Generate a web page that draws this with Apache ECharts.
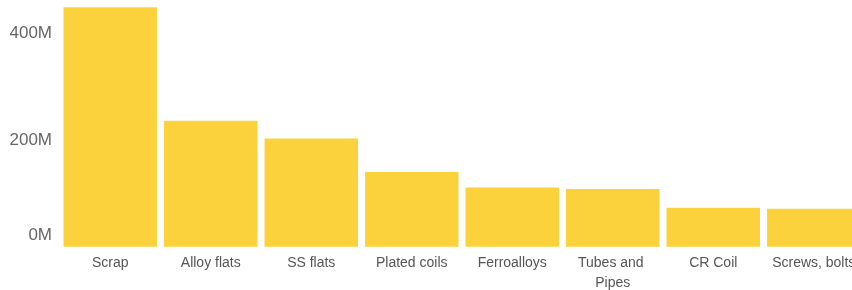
<!DOCTYPE html>
<html>
<head>
<meta charset="utf-8">
<script src="https://cdn.jsdelivr.net/npm/echarts@6/dist/echarts.min.js"></script>
<style>
  html, body { margin: 0; padding: 0; background: #fff; }
  #chart { width: 852px; height: 290px; }
</style>
</head>
<body>
<div id="chart"></div>
<script>
// data (values in millions)
var categories = ['Scrap', 'Alloy flats', 'SS flats', 'Plated coils', 'Ferroalloys', 'Tubes and Pipes', 'CR Coil', 'Screws, bolts'];
var values = [449, 236, 203, 140, 111, 108, 73, 71];
var yTicks = [0, 200, 400];

var myChart = echarts.init(document.getElementById('chart'));

var option = {
    animation: false,
    grid: {
        left: 60,
        top: 6.7,
        width: 804,
        height: 240,
        outerBoundsMode: 'none',
        containLabel: false
    },
    xAxis: {
        type: 'category',
        data: categories,
        axisLine: { show: false },
        axisTick: { show: false },
        axisLabel: {
            interval: 0,
            margin: 6,
            width: 96,
            overflow: 'break',
            lineHeight: 20,
            color: '#555',
            fontSize: 14,
            fontFamily: 'Liberation Sans, Arial, sans-serif'
        }
    },
    yAxis: {
        type: 'value',
        min: 0,
        max: 450,
        interval: 200,
        splitLine: { show: false },
        axisLabel: {
            showMaxLabel: false,
            margin: 8,
            color: '#666',
            fontSize: 17,
            fontFamily: 'Liberation Sans, Arial, sans-serif',
            formatter: function (v) {
                if (yTicks.indexOf(v) < 0) return '';
                return v === 0 ? '{b|' + v + 'M}' : v + 'M';
            },
            rich: {
                b: { color: '#666', fontSize: 17, fontFamily: 'Liberation Sans, Arial, sans-serif', padding: [0, 0, 22, 0] }
            }
        }
    },
    series: [
        {
            type: 'bar',
            data: values,
            barCategoryGap: '7%',
            itemStyle: { color: '#FCD23C' }
        }
    ]
};

myChart.setOption(option);
window.addEventListener('resize', function () {
    myChart.resize();
});
</script>
</body>
</html>
